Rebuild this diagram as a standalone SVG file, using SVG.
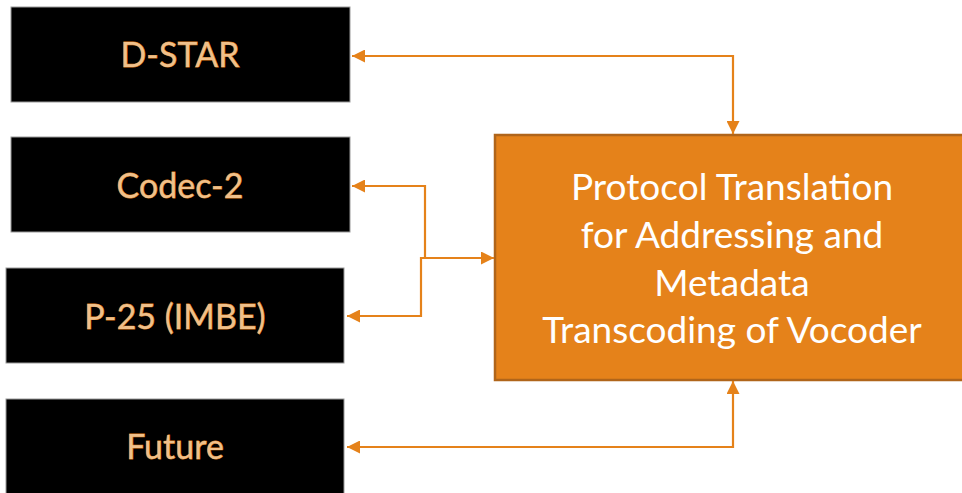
<svg xmlns="http://www.w3.org/2000/svg" width="962" height="493" viewBox="0 0 962 493">
<style>
.blk{fill:#000;stroke:#9a9a9a;stroke-width:1}
.lbl{font-family:Lato,"Open Sans",sans-serif;font-size:34px;fill:#F0C08A;stroke:#D9781A;stroke-width:0.8;paint-order:stroke;text-anchor:middle}
.main{fill:#E5821A;stroke:#B0651A;stroke-width:2.5}
.mt{font-family:Lato,"Open Sans",sans-serif;font-size:37px;fill:#fff;text-anchor:middle}
.con{fill:none;stroke:#E5821A;stroke-width:2.2}
</style>
<defs>
<marker id="ah" viewBox="0 0 10 10" refX="10" refY="5" markerWidth="13" markerHeight="13" markerUnits="userSpaceOnUse" orient="auto-start-reverse">
<path d="M0,0 L10,5 L0,10 z" fill="#E5821A"/>
</marker>
</defs>
<rect width="962" height="493" fill="#fff"/>
<g id="dstar"><rect class="blk" x="11" y="7" width="339" height="95"/><text class="lbl" x="180" y="67">D-STAR</text></g>
<g id="codec2"><rect class="blk" x="11" y="137" width="339" height="95"/><text class="lbl" x="180" y="198">Codec-2</text></g>
<g id="p25"><rect class="blk" x="6" y="268" width="338" height="95"/><text class="lbl" x="175" y="329">P-25 (IMBE)</text></g>
<g id="future"><rect class="blk" x="6" y="399" width="338" height="100"/><text class="lbl" x="175" y="459">Future</text></g>
<g id="translator"><rect class="main" x="495" y="135" width="480" height="245"/>
<text class="mt" x="732" y="200">Protocol Translation</text>
<text class="mt" x="732" y="248">for Addressing and</text>
<text class="mt" x="732" y="296">Metadata</text>
<text class="mt" x="732" y="343">Transcoding of Vocoder</text></g>
<g id="connectors">
<path class="con" d="M352,56 H733 V134" marker-start="url(#ah)" marker-end="url(#ah)"/>
<path class="con" d="M352,186 H425 V258 H494" marker-start="url(#ah)" marker-end="url(#ah)"/>
<path class="con" d="M347,316 H421 V258 H425"/>
<path class="con" d="M347,316 H380" marker-start="url(#ah)"/>
<path class="con" d="M347,447 H733 V381" marker-start="url(#ah)" marker-end="url(#ah)"/>
</g>
</svg>
